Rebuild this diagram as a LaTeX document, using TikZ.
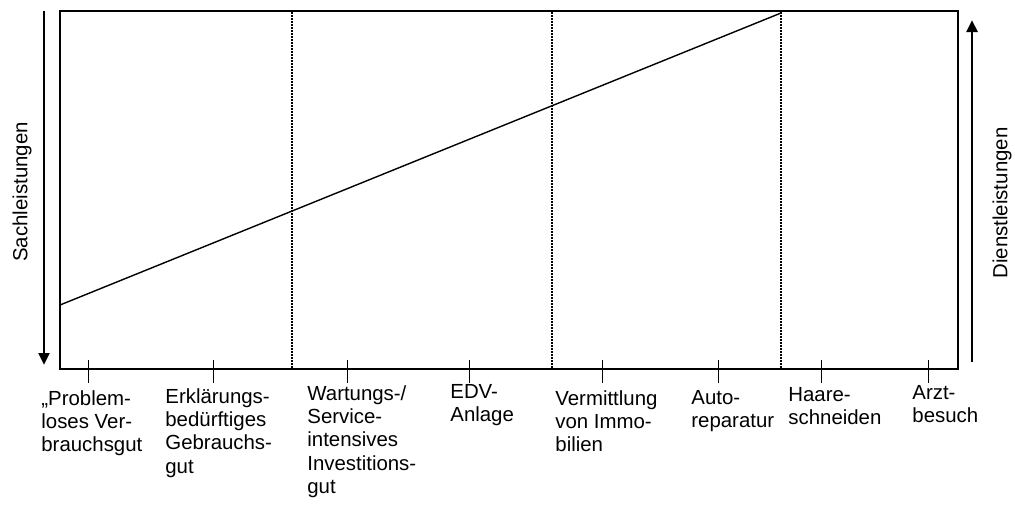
\documentclass[tikz,border=0pt]{standalone}
\usepackage{fontspec}
\setmainfont{Liberation Sans}
\usetikzlibrary{arrows.meta}

\tikzset{
  ticklabel/.style={anchor=north west, inner sep=0pt, align=left,
    font=\fontsize{10.2}{11.65}\selectfont},
  sidelabel/.style={rotate=90, inner sep=0pt, font=\fontsize{10.2}{12}\selectfont},
  bigarrow/.style={line width=1.45pt, -{Triangle[length=6pt,width=5.4pt]}},
  divider/.style={line width=1.3pt, dash pattern=on 1.2pt off 0.3pt},
}

\begin{document}
\begin{tikzpicture}[x=0.5pt, y=-0.5pt]
        \useasboundingbox (0,0) rectangle (1015,505);

        \draw[line width=0.8pt] (60,11) rectangle (958,369);

        \foreach \x in {292, 552, 781}
        \draw[divider] (\x, 12) -- (\x, 369);

        \draw[line width=0.7pt] (60,305) -- (781,13);

        \foreach \x in {88, 213, 347, 469, 602, 718, 821, 928}
        \draw[line width=0.5pt] (\x, 360) -- (\x, 383);

        \draw[bigarrow] (44,11) -- (44,365);
        \draw[bigarrow] (972,362) -- (972,20);
        \node[sidelabel] (sach) at (22,192) {Sachleistungen};
        \node[sidelabel] (dienst) at (1002,203) {Dienstleistungen};

        \node[ticklabel] (verbrauch) at (41,390) {„Problem-\\loses Ver-\\brauchsgut};
        \node[ticklabel] (gebrauch) at (165,388) {Erklärungs-\\bedürftiges\\Gebrauchs-\\gut};
        \node[ticklabel] (invest) at (307,385) {Wartungs-/\\Service-\\intensives\\Investitions-\\gut};
        \node[ticklabel] (edv) at (450,384) {EDV-\\Anlage};
        \node[ticklabel] (immo) at (555,390) {Vermittlung\\von Immo-\\bilien};
        \node[ticklabel] (auto) at (691,390) {Auto-\\reparatur};
        \node[ticklabel] (haare) at (788,387) {Haare-\\schneiden};
        \node[ticklabel] (arzt) at (912,385) {Arzt-\\besuch};

    \end{tikzpicture}
\end{document}
